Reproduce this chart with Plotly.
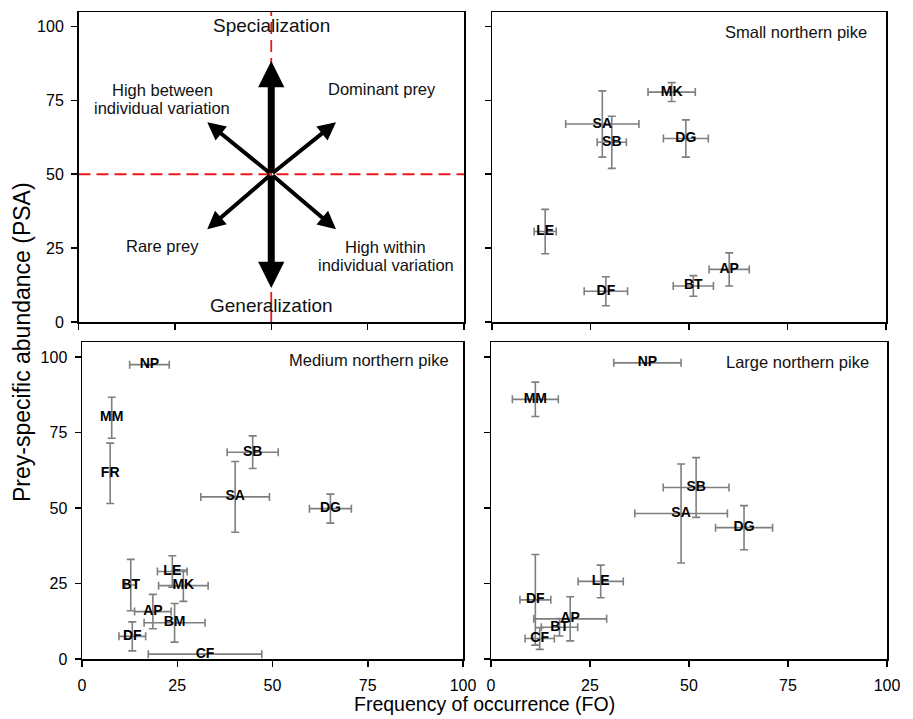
import plotly.graph_objects as go

FONT = "Liberation Sans, Arial, sans-serif"

# ---------------- data ----------------
ticks = [0, 25, 50, 75, 100]
tick_text = ["0", "25", "50", "75", "100"]

small_labels = ["MK", "SA", "SB", "DG", "LE", "AP", "BT", "DF"]
small_fo = [45.6, 28.0, 30.4, 49.2, 13.5, 60.2, 51.1, 28.9]
small_fo_err = [6.0, 9.3, 3.7, 5.7, 2.8, 5.1, 5.1, 5.5]
small_psa = [77.8, 67.0, 60.8, 62.1, 30.6, 17.8, 12.2, 10.4]
small_psa_err = [3.2, 11.2, 8.8, 6.3, 7.5, 5.6, 3.5, 4.9]

medium_labels = ["NP", "MM", "FR", "SB", "SA", "DG", "LE", "MK", "BT", "AP", "BM", "DF", "CF"]
medium_fo = [17.7, 7.8, 7.4, 44.8, 40.2, 65.2, 23.7, 26.6, 12.8, 18.6, 24.3, 13.2, 32.3]
medium_fo_err = [5.2, 0.0, 0.0, 6.7, 9.0, 5.5, 3.9, 6.5, 1.5, 4.8, 8.0, 3.5, 14.9]
medium_psa = [97.5, 79.9, 61.5, 68.5, 53.7, 49.8, 29.0, 24.3, 24.5, 15.7, 12.0, 7.5, 1.6]
medium_psa_err = [0.0, 6.8, 10.0, 5.4, 11.7, 4.8, 5.2, 5.2, 8.5, 5.7, 6.4, 4.8, 0.0]

large_labels = ["NP", "MM", "SB", "SA", "DG", "LE", "DF", "AP", "BT", "CF"]
large_fo = [39.5, 11.2, 51.8, 48.0, 63.9, 27.7, 11.2, 20.0, 17.3, 12.3]
large_fo_err = [8.5, 5.8, 8.3, 11.7, 7.2, 5.7, 3.9, 9.2, 4.6, 3.7]
large_psa = [98.1, 86.0, 56.8, 48.2, 43.5, 25.7, 19.6, 13.3, 10.5, 6.8]
large_psa_err = [0.0, 5.7, 9.9, 16.4, 7.3, 5.4, 15.0, 7.3, 2.9, 3.6]

# conceptual panel: arrow tips (tail at centre)
centre = (50, 50)
arrow_tips_main = [(50, 88.3), (50, 11.5)]
arrow_tips_diag = [(33.4, 67.6), (66.8, 67.6), (33.4, 31.4), (66.8, 31.4)]
concept_texts = [
    ("Specialization", 50, 100.3, 19),
    ("Generalization", 50, 5.7, 19),
    ("High between", 21.7, 78.5, 16.5),
    ("individual variation", 21.7, 72.3, 16.5),
    ("Dominant prey", 78.7, 78.7, 16.5),
    ("Rare prey", 21.8, 25.7, 16.5),
    ("High within", 79.7, 25.5, 16.5),
    ("individual variation", 79.7, 19.3, 16.5),
]

W, H = 913, 719


def px_x(a, b):
    return [a / W, b / W]


def px_y(top, bottom):
    return [1 - bottom / H, 1 - top / H]


def pp(xp, yp):
    return xp / W, 1 - yp / H


fig = go.Figure()

err_style = dict(color="#7f7f7f", thickness=1.6, width=4)
label_font = dict(family=FONT, size=14, color="black", weight="bold")

for labels, fo, foe, psa, psae, xa, ya in [
    (small_labels, small_fo, small_fo_err, small_psa, small_psa_err, "x2", "y2"),
    (medium_labels, medium_fo, medium_fo_err, medium_psa, medium_psa_err, "x3", "y3"),
    (large_labels, large_fo, large_fo_err, large_psa, large_psa_err, "x4", "y4"),
]:
    fig.add_trace(go.Scatter(
        x=fo, y=psa, text=labels, mode="text",
        textposition="middle center", textfont=label_font,
        error_x=dict(type="data", array=foe, visible=True, **err_style),
        error_y=dict(type="data", array=psae, visible=True, **err_style),
        xaxis=xa, yaxis=ya, showlegend=False, hoverinfo="skip",
    ))

# dummy trace to anchor the conceptual axes
fig.add_trace(go.Scatter(x=[None], y=[None], xaxis="x", yaxis="y",
                         showlegend=False, hoverinfo="skip"))

axis_common = dict(
    showline=True, linecolor="black", linewidth=1.5, mirror=True,
    ticks="outside", ticklen=6, tickwidth=1.5, tickcolor="black",
    showgrid=False, zeroline=False, tickvals=ticks, ticktext=tick_text,
    tickfont=dict(family=FONT, size=16, color="black"),
    fixedrange=True, automargin=False,
)

dom_top = px_y(12, 322)
dom_bot = px_y(342, 659)

fig.update_layout(
    width=W, height=H,
    margin=dict(l=0, r=0, t=0, b=0, pad=0),
    paper_bgcolor="white", plot_bgcolor="white",
    font=dict(family=FONT, color="black"),
    xaxis=dict(domain=px_x(78.5, 464), range=[0, 100], anchor="y",
               showticklabels=False, **axis_common),
    yaxis=dict(domain=dom_top, range=[0, 104.9], anchor="x",
               showticklabels=True, ticklabelstandoff=4, **axis_common),
    xaxis2=dict(domain=px_x(492, 886), range=[0, 100], anchor="y2",
                showticklabels=False, **axis_common),
    yaxis2=dict(domain=dom_top, range=[0, 104.9], anchor="x2",
                showticklabels=False, **axis_common),
    xaxis3=dict(domain=px_x(82, 463), range=[0, 100], anchor="y3",
                showticklabels=True, ticklabelstandoff=5, **axis_common),
    yaxis3=dict(domain=dom_bot, range=[0, 105], anchor="x3",
                showticklabels=True, ticklabelstandoff=4, **axis_common),
    xaxis4=dict(domain=px_x(491, 887), range=[0, 100], anchor="y4",
                showticklabels=True, ticklabelstandoff=5, **axis_common),
    yaxis4=dict(domain=dom_bot, range=[0, 105], anchor="x4",
                showticklabels=False, **axis_common),
)

# red dashed reference lines in conceptual panel
fig.add_shape(type="line", xref="x", yref="y", x0=50, x1=50, y0=0, y1=104.9,
              line=dict(color="#e8191e", width=1.8, dash="12px,6px"))
fig.add_shape(type="line", xref="x", yref="y", x0=0, x1=100, y0=50, y1=50,
              line=dict(color="#e8191e", width=1.8, dash="12px,6px"))

for tx, ty in arrow_tips_main:
    fig.add_annotation(x=tx, y=ty, ax=centre[0], ay=centre[1], xref="x", yref="y",
                       axref="x", ayref="y", text="", showarrow=True,
                       arrowhead=2, arrowsize=0.75, arrowwidth=7, arrowcolor="black")
for tx, ty in arrow_tips_diag:
    fig.add_annotation(x=tx, y=ty, ax=centre[0], ay=centre[1], xref="x", yref="y",
                       axref="x", ayref="y", text="", showarrow=True,
                       arrowhead=2, arrowsize=0.9, arrowwidth=4, arrowcolor="black")

for txt, tx, ty, sz in concept_texts:
    fig.add_annotation(x=tx, y=ty, xref="x", yref="y", text=txt, showarrow=False,
                       xanchor="center", yanchor="middle",
                       font=dict(family=FONT, size=sz, color="#111111"))

# panel titles
for txt, right, yc in [("Small northern pike", 869, 31.7),
                       ("Medium northern pike", 451, 360),
                       ("Large northern pike", 871, 361.7)]:
    px_, py_ = pp(right, yc)
    fig.add_annotation(x=px_, y=py_, xref="paper", yref="paper",
                       text=txt, showarrow=False, xanchor="right", yanchor="middle",
                       font=dict(family=FONT, size=16.5, color="#111111"))

# axis titles
px_, py_ = pp(22, 342)
fig.add_annotation(x=px_, y=py_, xref="paper", yref="paper",
                   text="Prey-specific abundance (PSA)", textangle=-90,
                   showarrow=False, xanchor="center", yanchor="middle",
                   font=dict(family=FONT, size=23, color="black"))
px_, py_ = pp(484, 704)
fig.add_annotation(x=px_, y=py_, xref="paper", yref="paper",
                   text="Frequency of occurrence (FO)",
                   showarrow=False, xanchor="center", yanchor="middle",
                   font=dict(family=FONT, size=19.5, color="black"))

fig.write_html(
    "out.html",
    config={"displayModeBar": False, "staticPlot": True},
    post_script="document.body.style.margin='0';document.body.style.overflow='hidden';",
)
